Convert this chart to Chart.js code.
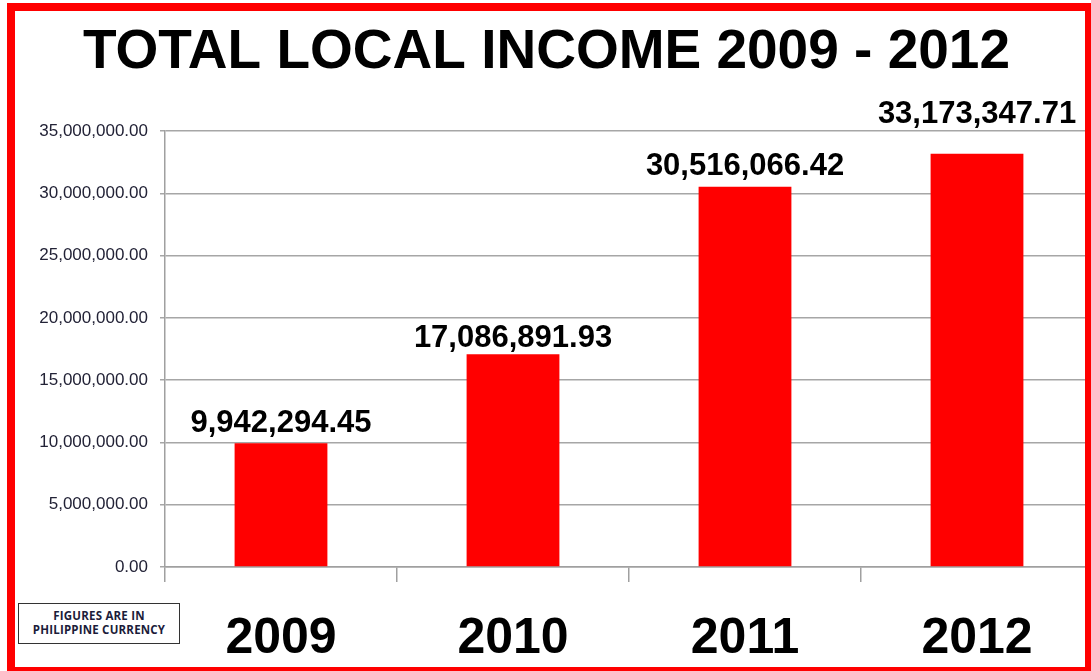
<!DOCTYPE html>
<html>
<head>
<meta charset="utf-8">
<script src="https://cdn.jsdelivr.net/npm/chart.js@4.4.1/dist/chart.umd.min.js"></script>
<style>
  html, body { margin: 0; padding: 0; background: #fff; overflow: hidden; }
  body { width: 1091px; height: 671px; position: relative; }
  #wrap { position: absolute; left: 0; top: 0; width: 1100px; height: 671px; }
  #frame {
    position: absolute; left: 7px; top: 3px; width: 1086px; height: 672px;
    box-sizing: border-box; border: 8px solid #ff0000; pointer-events: none;
  }
  #note {
    position: absolute; left: 18px; top: 603px; width: 162px; height: 41px;
    box-sizing: border-box; border: 1.5px solid #333; background: #fff;
    font-family: 'Open Sans', 'Liberation Sans', sans-serif; font-weight: bold;
    font-size: 11.5px; line-height: 14px; color: #1c1c3a; text-align: center;
    padding-top: 5px; letter-spacing: 0.2px;
  }
</style>
</head>
<body>
<div id="wrap"><canvas id="incomeChart" width="1100" height="671"></canvas></div>
<div id="frame"></div>
<div id="note">FIGURES ARE IN<br>PHILIPPINE CURRENCY</div>
<script>
// data
var years = ['2009', '2010', '2011', '2012'];
var income = [9942294.45, 17086891.93, 30516066.42, 33173347.71];
var yTicks = [0, 5000000, 10000000, 15000000, 20000000, 25000000, 30000000, 35000000];

var money = function(v){
    return Number(v).toLocaleString('en-US', {minimumFractionDigits: 2, maximumFractionDigits: 2});
};

// value labels above bars (2012 sits higher in the original)
var labelGap = [11, 7, 12, 31];
var barLabels = {
    id: 'barLabels',
    afterDatasetsDraw(chart){
        var ctx = chart.ctx;
        var meta = chart.getDatasetMeta(0);
        ctx.save();
        ctx.font = 'bold 31px "Liberation Sans", Arial, sans-serif';
        ctx.fillStyle = '#000';
        ctx.textAlign = 'center';
        ctx.textBaseline = 'alphabetic';
        meta.data.forEach((bar, i)=>{
            ctx.fillText(money(income[i]), bar.x, bar.y - labelGap[i]);
        });
        ctx.restore();
    }
};

var ctx = document.getElementById('incomeChart');
var myChart = new Chart(ctx, {
    type: 'bar',
    data: {
        labels: years,
        datasets: [{
            label: 'Total local income',
            data: income,
            backgroundColor: '#ff0000',
            borderWidth: 0,
            categoryPercentage: 1,
            barPercentage: 0.4
        }]
    },
    options: {
        responsive: false,
        animation: false,
        layout: { padding: { left: 0, right: 7, top: 0, bottom: 0 } },
        plugins: {
            legend: { display: false },
            tooltip: { enabled: false },
            title: {
                display: true,
                text: 'TOTAL LOCAL INCOME 2009 - 2012',
                color: '#000',
                font: { family: '"Liberation Sans", Arial, sans-serif', size: 55, weight: 'bold' },
                padding: { top: 20, bottom: 45 }
            }
        },
        scales: {
            x: {
                grid: {
                    offset: true,
                    drawOnChartArea: false,
                    drawTicks: true,
                    tickLength: 15,
                    color: '#a0a0a0',
                    lineWidth: 1.5
                },
                border: { color: '#a0a0a0', width: 1.5 },
                ticks: {
                    color: '#000',
                    padding: 27,
                    font: { family: '"Liberation Sans", Arial, sans-serif', size: 50, weight: 'bold' }
                },
                afterFit(scale){ scale.height = 104; }
            },
            y: {
                min: 0,
                max: 35000000,
                afterBuildTicks(scale){ scale.ticks = yTicks.map(v=>({value: v})); },
                grid: { color: '#a6a6a6', lineWidth: 1.5, tickLength: 5 },
                border: { color: '#a0a0a0', width: 1.5 },
                ticks: {
                    color: '#222236',
                    padding: 12,
                    font: { family: '"Liberation Sans", Arial, sans-serif', size: 17 },
                    callback: (v)=>money(v)
                },
                afterFit(scale){ scale.width = 165; }
            }
        }
    },
    plugins: [barLabels]
});
</script>
</body>
</html>
